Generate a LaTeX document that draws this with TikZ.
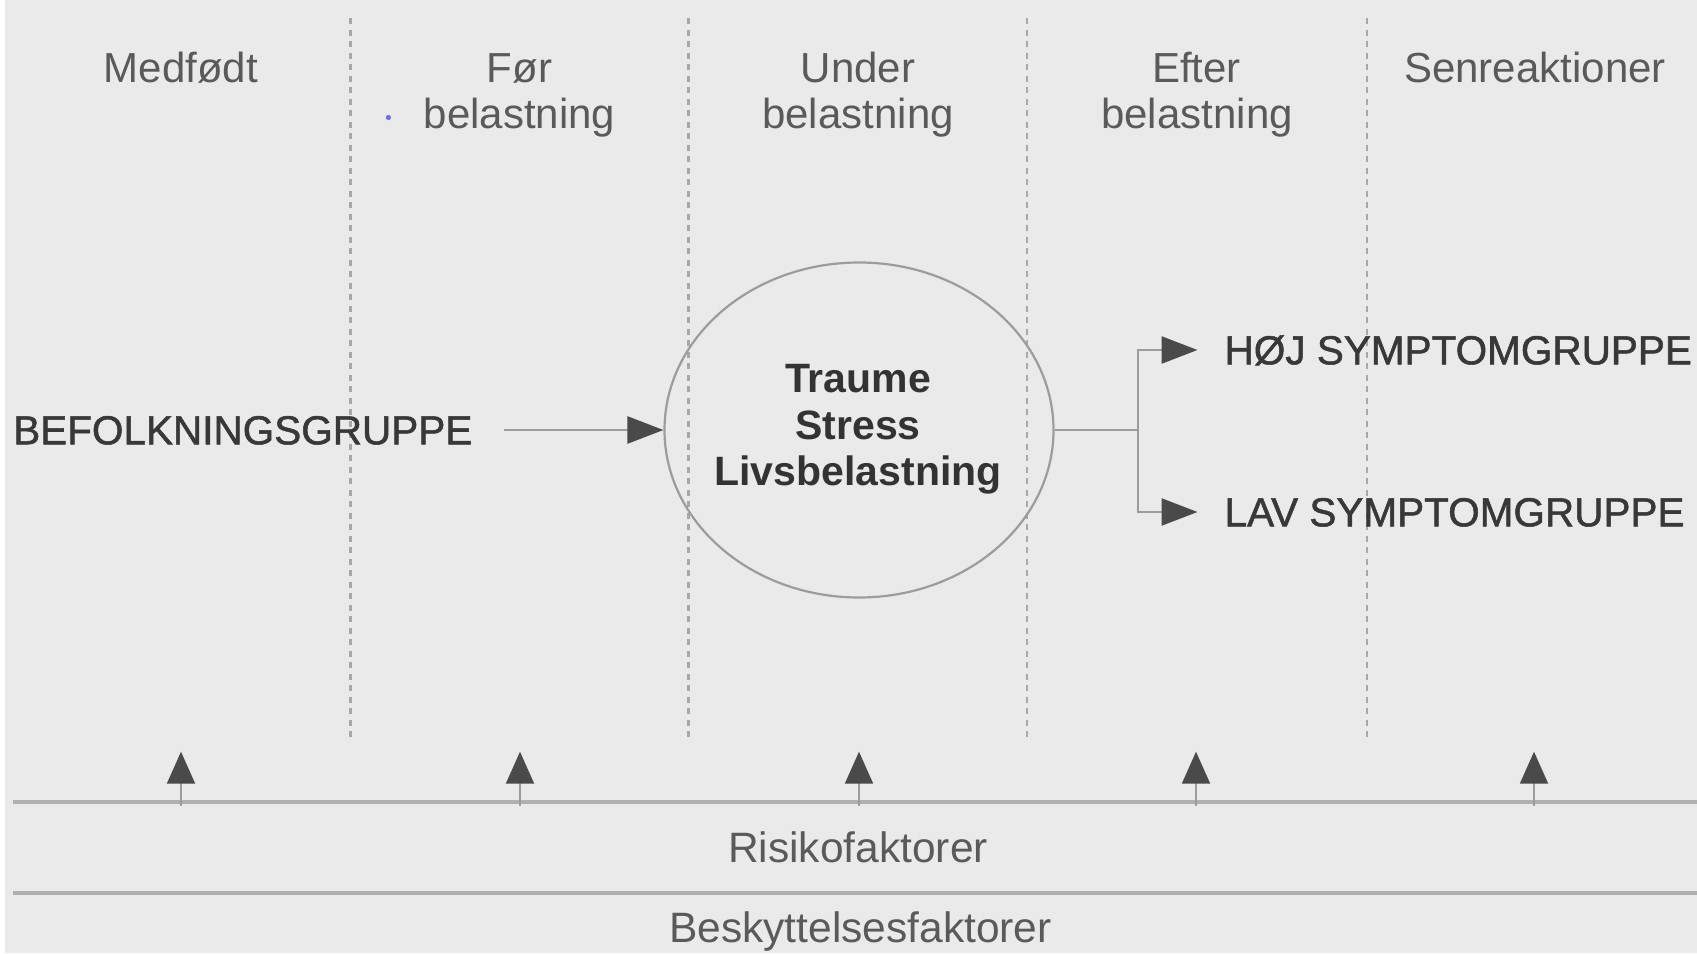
\documentclass[tikz,border=0pt]{standalone}
\usepackage{fontspec}
\setmainfont{Liberation Sans}
\newfontfamily\capfont[FakeBold=1.3]{Liberation Sans}
\usetikzlibrary{arrows.meta,shapes.geometric}
\definecolor{bg}{HTML}{EAEAEA}
\definecolor{dashc}{HTML}{A8A8A8}
\definecolor{linec}{HTML}{9C9C9C}
\definecolor{hlinec}{HTML}{B0B0B0}
\definecolor{tipc}{HTML}{4A4A4A}
\definecolor{labc}{HTML}{5A5A5A}
\definecolor{capc}{HTML}{383838}
\definecolor{boldc}{HTML}{333333}
\definecolor{dotc}{HTML}{6E6EE6}
\tikzset{
  collab/.style={font=\fontsize{42}{46}\selectfont, text=labc, inner sep=0pt, anchor=base},
  caplab/.style={font=\capfont\fontsize{40.5}{46}\selectfont, text=capc, inner sep=0pt, anchor=base west},
  boldlab/.style={font=\fontsize{41}{46}\selectfont\bfseries, text=boldc, inner sep=0pt, anchor=base},
  botlab/.style={font=\fontsize{42.5}{46}\selectfont, text=labc, inner sep=0pt, anchor=base},
  sepline/.style={draw=dashc, line width=2.5pt, dash pattern=on 6pt off 5.5pt},
  conn/.style={draw=linec, line width=2.6pt},
  arr/.style={conn, -{Triangle[length=36pt,width=27pt,color=tipc]}},
  uparr/.style={draw=linec, line width=2pt, -{Triangle[length=32pt,width=28pt,color=tipc]}},
  hline/.style={draw=hlinec, line width=4.5pt},
}
\begin{document}
\begin{tikzpicture}[x=1pt,y=-1pt]
\useasboundingbox (0,0) rectangle (1697,953);
\clip (0,0) rectangle (1697,953);
\fill[white] (0,0) rectangle (1697,953);
\fill[bg] (5,0) rectangle (1697,953);

% separators
\foreach \xx/\nm in {350.7/s1,688.3/s2,1027.1/s3,1367/s4}{
  \coordinate (\nm top) at (\xx,18);
  \coordinate (\nm bot) at (\xx,739);
  \draw[sepline] (\nm top) -- (\nm bot);
}

% column labels
\node[collab] (c1a) at (180.7,82) {Medfødt};
\node[collab] (c2a) at (519.5,82) {Før};
\node[collab] (c2b) at (519.5,128.5) {belastning};
\node[collab] (c3a) at (858,82) {Under};
\node[collab] (c3b) at (858,128.5) {belastning};
\node[collab] (c4a) at (1196.5,82) {Efter};
\node[collab] (c4b) at (1197,128.5) {belastning};
\node[collab] (c5a) at (1535,82) {Senreaktioner};
\fill[dotc] (388.4,117.5) circle (2.6pt);

% ellipse
\node[ellipse, draw=linec, line width=2.2pt, minimum width=389pt, minimum height=335pt, inner sep=0pt] (ell) at (859,430) {};
\node[boldlab] (t1) at (858,392.5) {Traume};
\node[boldlab] (t2) at (858,439) {Stress};
\node[boldlab] (t3) at (858,485.5) {Livsbelastning};

% left label and arrow
\node[caplab] (bef) at (13,444.3) {BEFOLKNINGSGRUPPE};
\coordinate (befstart) at (503.5,430);
\draw[arr] (befstart) -- (ell.west);

% right branches
\node[caplab] (hoj) at (1224.4,364.3) {HØJ SYMPTOMGRUPPE};
\node[caplab] (lav) at (1224.4,526.3) {LAV SYMPTOMGRUPPE};
\coordinate (split) at (1137.8,430);
\coordinate (hojtip) at (1197.5,350);
\coordinate (lavtip) at (1197.5,512);
\draw[conn] (ell.east) -- (split);
\draw[arr] (split) |- (hojtip);
\draw[arr] (split) |- (lavtip);

% bottom lines
\coordinate (l1a) at (13,802);
\coordinate (l1b) at (1697,802);
\coordinate (l2a) at (13,893);
\coordinate (l2b) at (1697,893);
\draw[hline] (l1a) -- (l1b);
\draw[hline] (l2a) -- (l2b);

% up arrows
\foreach \xx/\nm in {181/u1,520/u2,859/u3,1196/u4,1534/u5}{
  \coordinate (\nm base) at (\xx,806);
  \coordinate (\nm tip) at (\xx,751.7);
  \draw[uparr] (\nm base) -- (\nm tip);
}

\node[botlab] (risk) at (858,862.5) {Risikofaktorer};
\node[botlab] (besk) at (860.4,942.5) {Beskyttelsesfaktorer};
\end{tikzpicture}
\end{document}
